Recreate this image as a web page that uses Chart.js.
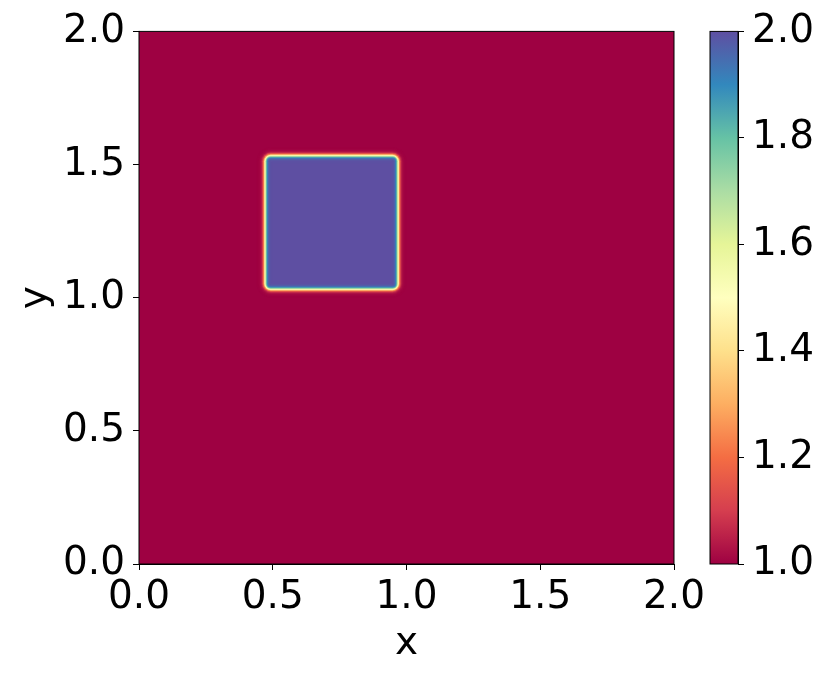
<!DOCTYPE html>
<html>
<head>
<meta charset="utf-8">
<script src="https://cdn.jsdelivr.net/npm/chart.js@4.4.0/dist/chart.umd.min.js"></script>
<style>
body { margin: 0; background: #fff; }
canvas { position: absolute; left: 0; top: 0; }
</style>
</head>
<body>
<canvas id="main" width="830" height="679"></canvas>
<canvas id="cbar" width="830" height="679"></canvas>
<script>
// field: value 1 everywhere, value 2 inside the square
const xTicks = [0.0, 0.5, 1.0, 1.5, 2.0];
const yTicks = [0.0, 0.5, 1.0, 1.5, 2.0];
const cbarTicks = [1.0, 1.2, 1.4, 1.6, 1.8, 2.0];
const squareX = [0.47, 0.97];
const squareY = [1.03, 1.535];
const fieldValues = [1.0, 2.0]; // background, inside square

// matplotlib "Spectral"
const spectralStops = ['#9e0142', '#d53e4f', '#f46d43', '#fdae61', '#fee08b', '#ffffbf',
                       '#e6f598', '#abdda4', '#66c2a5', '#3288bd', '#5e4fa2'];

function hexRgb(h) {
    return [parseInt(h.substr(1, 2), 16), parseInt(h.substr(3, 2), 16), parseInt(h.substr(5, 2), 16)];
}
function spectral(v) {
    var lo = cbarTicks[0], hi = cbarTicks[cbarTicks.length - 1];
    var t = Math.min(1, Math.max(0, (v - lo) / (hi - lo))) * (spectralStops.length - 1);
    var i = Math.min(Math.floor(t), spectralStops.length - 2);
    var f = t - i;
    var a = hexRgb(spectralStops[i]), b = hexRgb(spectralStops[i + 1]);
    return 'rgb(' + a.map(function (c, k) { return Math.round(c + (b[k] - c) * f); }).join(',') + ')';
}

Chart.defaults.color = '#000';
Chart.defaults.font.family = 'DejaVu Sans';
const bigFont = { family: 'DejaVu Sans', size: 39 };

const fieldPlugin = {
    id: 'field',
    beforeDatasetsDraw(chart) {
        const { ctx, chartArea: a, scales: { x, y } } = chart;
        ctx.save();
        ctx.beginPath();
        ctx.rect(a.left, a.top, a.width, a.height);
        ctx.clip();
        ctx.fillStyle = spectral(fieldValues[0]);
        ctx.fillRect(a.left, a.top, a.width, a.height);
        const x0 = x.getPixelForValue(squareX[0]), x1 = x.getPixelForValue(squareX[1]);
        const y0 = y.getPixelForValue(squareY[1]), y1 = y.getPixelForValue(squareY[0]);
        // smooth edge of the square
        for (let o = 8; o >= -8; o -= 0.5) {
            const t = 0.5 + 0.5 * Math.tanh(-o / 2.2);
            ctx.fillStyle = spectral(fieldValues[0] + t * (fieldValues[1] - fieldValues[0]));
            ctx.beginPath();
            ctx.roundRect(x0 - o, y0 - o, x1 - x0 + 2 * o, y1 - y0 + 2 * o, Math.max(0, 6 + o));
            ctx.fill();
        }
        ctx.restore();
    },
    afterDraw(chart) {
        const { ctx, chartArea: a } = chart;
        ctx.save();
        ctx.strokeStyle = '#000';
        ctx.lineWidth = 1;
        ctx.strokeRect(a.left, a.top, a.width, a.height);
        ctx.restore();
    }
};

const mainChart = new Chart(document.getElementById('main').getContext('2d'), {
    type: 'scatter',
    data: { datasets: [{ data: [], pointRadius: 0 }] },
    options: {
        responsive: false,
        animation: false,
        layout: { padding: { left: 0, top: 30, right: 156, bottom: 0 } },
        plugins: { legend: { display: false }, tooltip: { enabled: false } },
        scales: {
            x: {
                type: 'linear', min: 0, max: 2,
                afterBuildTicks: function (s) { s.ticks = xTicks.map(function (v) { return { value: v }; }); },
                afterFit: function (s) { s.height = 115; },
                ticks: { font: bigFont, padding: 4, autoSkip: false, maxRotation: 0,
                         callback: function (v) { return v.toFixed(1); } },
                grid: { drawOnChartArea: false, tickLength: 6, tickColor: '#000' },
                border: { color: '#000' },
                title: { display: true, text: 'x', font: bigFont, padding: { top: 0, bottom: 12 } }
            },
            y: {
                type: 'linear', min: 0, max: 2,
                afterBuildTicks: function (s) { s.ticks = yTicks.map(function (v) { return { value: v }; }); },
                afterFit: function (s) { s.width = 139; },
                ticks: { font: bigFont, padding: 8, autoSkip: false,
                         callback: function (v) { return v.toFixed(1); } },
                grid: { drawOnChartArea: false, tickLength: 6, tickColor: '#000' },
                border: { color: '#000' },
                title: { display: true, text: 'y', font: bigFont, padding: { top: 12, bottom: 0 } }
            }
        }
    },
    plugins: [fieldPlugin]
});

const cbarPlugin = {
    id: 'cbar',
    beforeDatasetsDraw(chart) {
        const { ctx, chartArea: a, scales: { y } } = chart;
        const yLo = y.getPixelForValue(cbarTicks[0]), yHi = y.getPixelForValue(cbarTicks[cbarTicks.length - 1]);
        const g = ctx.createLinearGradient(0, yLo, 0, yHi);
        spectralStops.forEach(function (c, i) { g.addColorStop(i / (spectralStops.length - 1), c); });
        ctx.save();
        ctx.fillStyle = g;
        ctx.fillRect(a.left, a.top, a.width, a.height);
        ctx.strokeStyle = '#000';
        ctx.lineWidth = 1;
        ctx.strokeRect(a.left, a.top, a.width, a.height);
        ctx.restore();
    }
};

const cbarChart = new Chart(document.getElementById('cbar').getContext('2d'), {
    type: 'scatter',
    data: { datasets: [{ data: [], pointRadius: 0 }] },
    options: {
        responsive: false,
        animation: false,
        layout: { padding: { left: 710, top: 30, right: 0, bottom: 115 } },
        plugins: { legend: { display: false }, tooltip: { enabled: false } },
        scales: {
            x: { display: false, min: 0, max: 1 },
            y: {
                type: 'linear', position: 'right',
                min: cbarTicks[0], max: cbarTicks[cbarTicks.length - 1],
                afterBuildTicks: function (s) { s.ticks = cbarTicks.map(function (v) { return { value: v }; }); },
                afterFit: function (s) { s.width = 92; },
                ticks: { font: bigFont, padding: 8, autoSkip: false,
                         callback: function (v) { return v.toFixed(1); } },
                grid: { drawOnChartArea: false, tickLength: 6, tickColor: '#000' },
                border: { color: '#000' }
            }
        }
    },
    plugins: [cbarPlugin]
});
</script>
</body>
</html>
